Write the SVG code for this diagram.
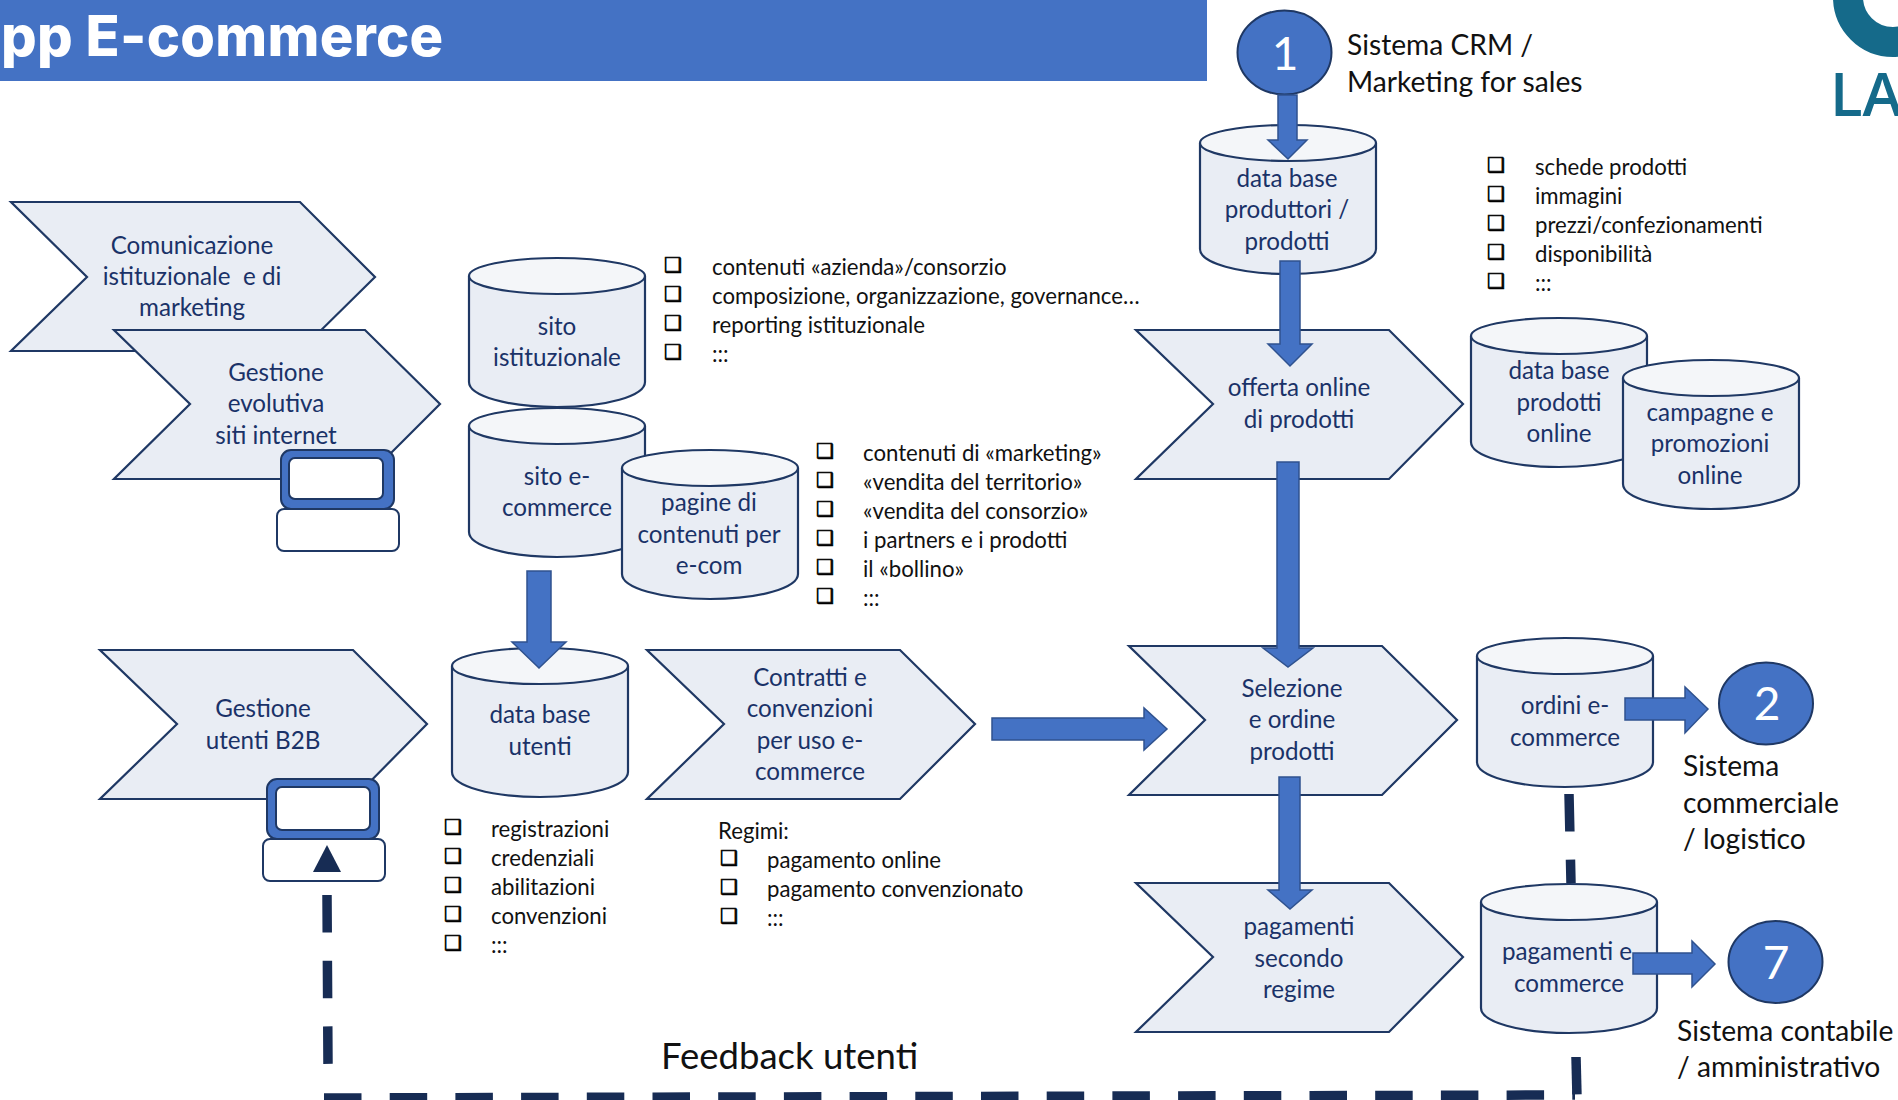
<svg xmlns="http://www.w3.org/2000/svg" width="1898" height="1100" viewBox="0 0 1898 1100">
<style>
text{font-family:"Lato","Carlito","Open Sans",sans-serif}
.n{font-size:24.2px;fill:#1a3268;text-anchor:middle;white-space:pre;transform:translateY(1px)}
.l{font-size:22.2px;fill:#111;transform:translateY(.6px)}
.b{font-size:20px;fill:#000;stroke:#000;stroke-width:.7;font-family:"DejaVu Sans",sans-serif;text-anchor:middle}
.big{font-size:28.2px;fill:#111}
.num{font-size:46px;fill:#fff;text-anchor:middle}
.sh{fill:#e9edf4;stroke:#1f3864;stroke-width:2.2;stroke-linejoin:miter}
.cb{fill:#e9edf4;stroke:#1f3864;stroke-width:2.2}
.ct{fill:#f4f6f9;stroke:#1f3864;stroke-width:2.2}
.ar{fill:#4472c4;stroke:#2f528f;stroke-width:1.5;stroke-linejoin:miter}
.da{fill:none;stroke:#172c54;stroke-width:9.5;stroke-dasharray:37.5 28.2}
.c{fill:#4472c4;stroke:#1f3864;stroke-width:2}
.m{fill:#4472c4;stroke:#1f3864;stroke-width:2}
.w{fill:#fff;stroke:#1f3864;stroke-width:2}
</style>
<defs>
<g id="cyl">
<path class="cb" d="M0,20 V125 C0,139 39,150 88,150 C137,150 176,139 176,125 V20 Z"/>
<ellipse class="ct" cx="88" cy="19" rx="88" ry="18"/>
</g>
</defs>
<g id="header">
<rect x="0" y="0" width="1207" height="81" fill="#4472c4"/>
<text x="1" y="56" font-size="56" font-weight="800" letter-spacing=".3" fill="#fff" style="font-family:Inter,'Open Sans',sans-serif">pp E-commerce</text>
</g>
<g id="logo">
<clipPath id="lc"><rect x="1820" y="0" width="78" height="120"/></clipPath>
<circle cx="1893" cy="-3" r="45" fill="none" stroke="#156a8a" stroke-width="30" clip-path="url(#lc)"/>
<text x="1830" y="116" font-size="60" font-weight="600" fill="#156a8a" style="font-family:'Open Sans',sans-serif">LA</text>
</g>
<g id="connectors-dashed">
<path class="da" d="M1569,794 L1571,883"/>
<path class="da" d="M1576,1057 L1577,1097"/>
<path class="da" d="M327,895 L328,1066"/>
<path class="da" d="M324,1098 L1575,1095"/>
</g>
<g id="node-comunicazione"><polygon class="sh" transform="translate(1,1)" points="10,201 299,201 374,276 299,350 10,350 86,276"/>
<text class="n"><tspan x="192" y="253">Comunicazione</tspan><tspan x="192" y="284">istituzionale  e di</tspan><tspan x="192" y="315">marketing</tspan></text></g>
<g id="node-gestione-siti"><polygon class="sh" transform="translate(1,1)" points="113,329 364,329 439,403 364,478 113,478 189,403"/>
<text class="n"><tspan x="276" y="380">Gestione</tspan><tspan x="276" y="411">evolutiva</tspan><tspan x="276" y="443">siti internet</tspan></text></g>
<g id="icon-pc1"><rect class="m" x="281" y="450" width="113" height="59" rx="10"/><rect class="w" x="289" y="458" width="94" height="41" rx="6"/><rect class="w" x="277" y="509" width="122" height="42" rx="7"/></g>
<g id="node-sito-ist"><use href="#cyl" x="469" y="257"/><text class="n"><tspan x="557" y="334">sito</tspan><tspan x="557" y="365">istituzionale</tspan></text></g>
<g id="node-sito-ecom"><use href="#cyl" x="469" y="407"/><text class="n"><tspan x="557" y="484">sito e-</tspan><tspan x="557" y="515">commerce</tspan></text></g>
<g id="node-pagine"><use href="#cyl" x="622" y="449"/><text class="n"><tspan x="709" y="510">pagine di</tspan><tspan x="709" y="542">contenuti per</tspan><tspan x="709" y="573">e-com</tspan></text></g>
<g id="node-gestione-utenti"><polygon class="sh" transform="translate(1,1)" points="99,649 352,649 426,723 352,798 99,798 176,723"/>
<text class="n"><tspan x="263" y="716">Gestione</tspan><tspan x="263" y="748">utenti B2B</tspan></text></g>
<g id="icon-pc2"><rect class="m" x="267" y="779" width="112" height="60" rx="10"/><rect class="w" x="276" y="787" width="94" height="43" rx="6"/><rect class="w" x="263" y="839" width="122" height="42" rx="7"/><polygon points="327,845 313,872 341,872" fill="#172c54"/></g>
<g id="node-db-utenti"><use href="#cyl" x="452" y="647"/><text class="n"><tspan x="540" y="722">data base</tspan><tspan x="540" y="754">utenti</tspan></text></g>
<g id="node-contratti"><polygon class="sh" transform="translate(1,1)" points="646,649 899,649 974,723 899,798 646,798 723,723"/>
<text class="n"><tspan x="810" y="685">Contratti e</tspan><tspan x="810" y="716">convenzioni</tspan><tspan x="810" y="748">per uso e-</tspan><tspan x="810" y="779">commerce</tspan></text></g>
<g id="node-db-produttori"><use href="#cyl" x="1200" y="124"/><text class="n"><tspan x="1287" y="186">data base</tspan><tspan x="1287" y="217">produttori /</tspan><tspan x="1287" y="249">prodotti</tspan></text></g>
<g id="node-offerta"><polygon class="sh" transform="translate(1,1)" points="1135,329 1388,329 1462,403 1388,478 1135,478 1212,403"/>
<text class="n"><tspan x="1299" y="395">offerta online</tspan><tspan x="1299" y="427">di prodotti</tspan></text></g>
<g id="node-db-online"><use href="#cyl" x="1471" y="317"/><text class="n"><tspan x="1559" y="378">data base</tspan><tspan x="1559" y="410">prodotti</tspan><tspan x="1559" y="441">online</tspan></text></g>
<g id="node-campagne"><use href="#cyl" x="1623" y="359"/><text class="n"><tspan x="1710" y="420">campagne e</tspan><tspan x="1710" y="451">promozioni</tspan><tspan x="1710" y="483">online</tspan></text></g>
<g id="node-selezione"><polygon class="sh" transform="translate(1,1)" points="1128,645 1381,645 1456,719 1381,794 1128,794 1204,719"/>
<text class="n"><tspan x="1292" y="696">Selezione</tspan><tspan x="1292" y="727">e ordine</tspan><tspan x="1292" y="759">prodotti</tspan></text></g>
<g id="node-ordini"><use href="#cyl" x="1477" y="637"/><text class="n"><tspan x="1565" y="713">ordini e-</tspan><tspan x="1565" y="745">commerce</tspan></text></g>
<g id="node-pagamenti"><polygon class="sh" transform="translate(1,1)" points="1135,882 1388,882 1462,956 1388,1031 1135,1031 1212,956"/>
<text class="n"><tspan x="1299" y="934">pagamenti</tspan><tspan x="1299" y="966">secondo</tspan><tspan x="1299" y="997">regime</tspan></text></g>
<g id="node-pagamenti-e"><use href="#cyl" x="1481" y="883"/><text class="n"><tspan x="1567" y="959">pagamenti e</tspan><tspan x="1569" y="991">commerce</tspan></text></g>
<g id="node-1"><ellipse class="c" cx="1284.5" cy="52.5" rx="47" ry="42"/><text class="num" x="1285" y="70">1</text></g>
<g id="node-2"><ellipse class="c" cx="1766" cy="703.500" rx="47" ry="41"/><text class="num" x="1767" y="720">2</text></g>
<g id="node-7"><ellipse class="c" cx="1775.500" cy="962" rx="47" ry="41"/><text class="num" x="1776" y="979">7</text></g>
<g id="connectors">
<polygon class="ar" points="1278,95 1297,95 1297,140 1307,140 1288,159 1268,140 1278,140"/>
<polygon class="ar" points="1280,261 1300,261 1300,344 1312,344 1290,366 1268,344 1280,344"/>
<polygon class="ar" points="1277,462 1299,462 1299,648 1313,648 1288,667 1263,648 1277,648"/>
<polygon class="ar" points="1279,777 1300,777 1300,890 1312,890 1290,909 1268,890 1279,890"/>
<polygon class="ar" points="527,571 551,571 551,642 566,642 539,668 512,642 527,642"/>
<polygon class="ar" points="992,718 1144,718 1144,708 1167,729 1144,750 1144,740 992,740"/>
<polygon class="ar" points="1625,698 1685,698 1685,687 1708,709 1685,733 1685,720 1625,720"/>
<polygon class="ar" points="1633,953 1692,953 1692,941 1715,964 1692,987 1692,974 1633,974"/>
</g>
<g id="labels">
<text class="big" x="1347" y="55">Sistema CRM /</text>
<text class="big" x="1347" y="92">Marketing for sales</text>
<text class="big" x="1683" y="776">Sistema</text>
<text class="big" x="1683" y="813">commerciale</text>
<text class="big" x="1683" y="849">/ logistico</text>
<text class="big" x="1677" y="1041">Sistema contabile</text>
<text class="big" x="1677" y="1077">/ amministrativo</text>
<text x="661" y="1069" font-size="36.500" fill="#111">Feedback utenti</text>
</g>
<g id="list-istituzionale">
<text class="b" x="673" y="272">❑</text><text class="l" x="712" y="274">contenuti «azienda»/consorzio</text>
<text class="b" x="673" y="301">❑</text><text class="l" x="712" y="303">composizione, organizzazione, governance…</text>
<text class="b" x="673" y="330">❑</text><text class="l" x="712" y="332">reporting istituzionale</text>
<text class="b" x="673" y="359">❑</text><text class="l" x="712" y="361">:::</text>
</g>
<g id="list-contenuti">
<text class="b" x="825" y="458">❑</text><text class="l" x="863" y="460">contenuti di «marketing»</text>
<text class="b" x="825" y="487">❑</text><text class="l" x="863" y="489">«vendita del territorio»</text>
<text class="b" x="825" y="516">❑</text><text class="l" x="863" y="518">«vendita del consorzio»</text>
<text class="b" x="825" y="545">❑</text><text class="l" x="863" y="547">i partners e i prodotti</text>
<text class="b" x="825" y="574">❑</text><text class="l" x="863" y="576">il «bollino»</text>
<text class="b" x="825" y="603">❑</text><text class="l" x="863" y="605">:::</text>
</g>
<g id="list-prodotti">
<text class="b" x="1496" y="172">❑</text><text class="l" x="1535" y="174">schede prodotti</text>
<text class="b" x="1496" y="201">❑</text><text class="l" x="1535" y="203">immagini</text>
<text class="b" x="1496" y="230">❑</text><text class="l" x="1535" y="232">prezzi/confezionamenti</text>
<text class="b" x="1496" y="259">❑</text><text class="l" x="1535" y="261">disponibilità</text>
<text class="b" x="1496" y="288">❑</text><text class="l" x="1535" y="290">:::</text>
</g>
<g id="list-utenti">
<text class="b" x="453" y="834">❑</text><text class="l" x="491" y="836">registrazioni</text>
<text class="b" x="453" y="863">❑</text><text class="l" x="491" y="865">credenziali</text>
<text class="b" x="453" y="892">❑</text><text class="l" x="491" y="894">abilitazioni</text>
<text class="b" x="453" y="921">❑</text><text class="l" x="491" y="923">convenzioni</text>
<text class="b" x="453" y="950">❑</text><text class="l" x="491" y="952">:::</text>
</g>
<g id="list-regimi">
<text class="l" x="718" y="838">Regimi:</text>
<text class="b" x="729" y="865">❑</text><text class="l" x="767" y="867">pagamento online</text>
<text class="b" x="729" y="894">❑</text><text class="l" x="767" y="896">pagamento convenzionato</text>
<text class="b" x="729" y="923">❑</text><text class="l" x="767" y="925">:::</text>
</g>
</svg>
